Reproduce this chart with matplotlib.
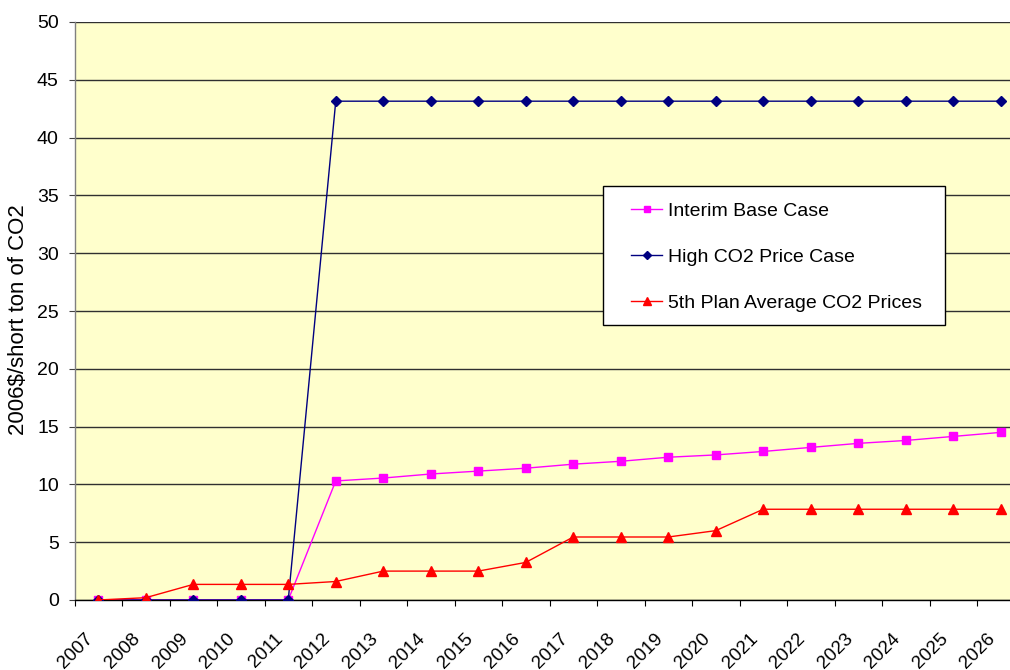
import matplotlib
matplotlib.use("Agg")
import matplotlib.pyplot as plt
from matplotlib.patches import Rectangle
from matplotlib.transforms import ScaledTranslation

years = [str(y) for y in range(2007, 2027)]
interim_base = [0, 0, 0, 0, 0, 10.3, 10.55, 10.9, 11.15, 11.4, 11.75, 12.0,
                12.35, 12.55, 12.85, 13.2, 13.55, 13.8, 14.15, 14.5]
high_co2 = [0, 0, 0, 0, 0, 43.15, 43.15, 43.15, 43.15, 43.15, 43.15, 43.15,
            43.15, 43.15, 43.15, 43.15, 43.15, 43.15, 43.15, 43.15]
plan5_avg = [0, 0.2, 1.35, 1.35, 1.35, 1.6, 2.5, 2.5, 2.5, 3.25, 5.45, 5.45,
             5.45, 6.0, 7.85, 7.85, 7.85, 7.85, 7.85, 7.85]
series_labels = ["Interim Base Case", "High CO2 Price Case",
                 "5th Plan Average CO2 Prices"]
y_ticks = list(range(0, 51, 5))

plt.rcParams["font.family"] = ["Liberation Sans", "DejaVu Sans"]

W, H = 1010, 670
fig = plt.figure(figsize=(W / 100, H / 100), dpi=100)
ax = fig.add_axes([74.5 / W, 1 - 600 / H, 950 / W, 578 / H])
ax.set_facecolor("#FFFFCC")

x = list(range(len(years)))
ax.plot(x, interim_base, color="#FF00FF", lw=1.0, marker="s", ms=5.8,
        label=series_labels[0], zorder=3)
ax.plot(x, high_co2, color="#000080", lw=1.0, marker="D", ms=5.0,
        label=series_labels[1], zorder=3)
ax.plot(x, plan5_avg, color="#FF0000", lw=1.0, marker="^", ms=6.8,
        label=series_labels[2], zorder=3)

ax.set_xlim(-0.5, len(years) - 0.5)
ax.set_ylim(0, 50)

# horizontal gridlines
ax.set_yticks(y_ticks)
ax.yaxis.grid(True, color="#303030", lw=1.0)
ax.set_axisbelow(True)
ax.tick_params(axis="y", direction="out", length=4.3, width=0.8, pad=7,
               labelsize=14, color="#404040")

# category boundaries carry the tick marks, labels sit at category centres
ax.set_xticks([i - 0.5 for i in range(len(years) + 1)])
ax.set_xticklabels([])
ax.tick_params(axis="x", which="major", direction="out", length=4.3,
               width=0.8, color="black")
ax.set_xticks(x, years, minor=True)
ax.tick_params(axis="x", which="minor", length=0, pad=26, labelsize=13.5)
shift = ScaledTranslation(-8 / 100, 0, fig.dpi_scale_trans)
for lbl in ax.get_xticklabels(minor=True):
    lbl.set_rotation(45)
    lbl.set_ha("right")
    lbl.set_va("center")
    lbl.set_rotation_mode("anchor")
    lbl.set_transform(lbl.get_transform() + shift)

for side in ("top", "right"):
    ax.spines[side].set_visible(False)
ax.spines["left"].set_color("#808080")
ax.spines["left"].set_linewidth(1.0)
ax.spines["bottom"].set_color("black")
ax.spines["bottom"].set_linewidth(1.0)

fig.text(19 / W, 1 - 320 / H, "2006$/short ton of CO2", rotation=90,
         ha="center", va="center", fontsize=16)

# legend box
box = Rectangle((603 / W, 1 - 325 / H), (945 - 603) / W, (325 - 186) / H,
                transform=fig.transFigure, facecolor="white",
                edgecolor="black", lw=1.0, zorder=4, clip_on=False)
ax.add_patch(box)
leg = ax.legend(loc="upper left", bbox_to_anchor=(631 / W, 1 - 202 / H),
                bbox_transform=fig.transFigure, frameon=False, fontsize=14,
                borderpad=0, borderaxespad=0, handlelength=1.6,
                handletextpad=0.3, labelspacing=1.47, markerscale=0.85)
leg.set_zorder(5)

fig.savefig("out.png", dpi=100, facecolor="white")
